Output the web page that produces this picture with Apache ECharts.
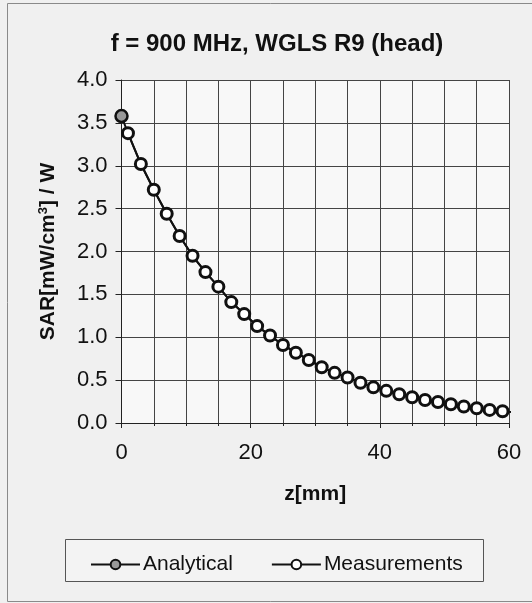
<!DOCTYPE html>
<html>
<head>
<meta charset="utf-8">
<script src="https://cdn.jsdelivr.net/npm/echarts@6/dist/echarts.min.js"></script>
<style>
html,body{margin:0;padding:0;background:#f0f0f0;}
#c{width:532px;height:603px;}
</style>
</head>
<body>
<div id="c"></div>
<script>
const titleText = 'f = 900 MHz, WGLS R9 (head)';
const xName = 'z[mm]';
const yName = 'SAR[mW/cm{sup|3}] / W';
const seriesNames = ['Analytical', 'Measurements'];

const measZ = [1,3,5,7,9,11,13,15,17,19,21,23,25,27,29,31,33,35,37,39,41,43,45,47,49,51,53,55,57,59];
const measSAR = [3.38,3.02,2.72,2.44,2.18,1.95,1.76,1.59,1.41,1.27,1.13,1.02,0.91,0.82,0.735,0.65,0.585,0.53,0.47,0.416,0.375,0.335,0.30,0.268,0.245,0.218,0.193,0.172,0.153,0.137];

const anaZ = [0,1,3,5,7,9,11,13,15,17,19,21,23,25,27,29,31,33,35,37,39,41,43,45,47,49,51,53,55,57,59,60.5];
const anaSAR = [3.58,3.38,3.02,2.72,2.44,2.18,1.95,1.76,1.59,1.41,1.27,1.13,1.02,0.91,0.82,0.735,0.65,0.585,0.53,0.47,0.416,0.375,0.335,0.30,0.268,0.245,0.218,0.193,0.172,0.153,0.137,0.127];

const chart = echarts.init(document.getElementById('c'), null, {renderer:'canvas'});
const FONT = 'Liberation Sans, Arial, sans-serif';

const anaData = anaZ.map((z,i) => i === 0 ? {value:[z, anaSAR[i]], symbol:'circle'} : {value:[z, anaSAR[i]], symbol:'none'});
const measData = measZ.map((z,i) => [z, measSAR[i]]);

chart.setOption({
  backgroundColor: '#f0f0f0',
  animation: false,
  textStyle: {fontFamily: FONT},
  title: {
    text: titleText,
    left: 272, top: 27, textAlign: 'center',
    textStyle: {fontFamily: FONT, fontWeight: 'bold', fontSize: 24, color: '#111'}
  },
  graphic: [
    {type:'rect', shape:{x:7.5, y:3.5, width:540, height:598}, style:{fill:'none', stroke:'#8a8a8a', lineWidth:1}, silent:true, z:-10},
    {type:'rect', shape:{x:65.5, y:539.5, width:418, height:42}, style:{fill:'#f3f3f3', stroke:'#555', lineWidth:1}, silent:true, z:-5}
  ],
  legend: {
    left: 85, top: 549,
    itemWidth: 49, itemHeight: 12, itemGap: 38,
    textStyle: {fontFamily: FONT, fontSize: 21, color: '#111', padding:[0,0,0,-2]},
    data: seriesNames
  },
  grid: {left: 121.5, right: 23, top: 80, bottom: 180, show: true, backgroundColor: '#f8f8f8', borderWidth: 0},
  xAxis: {
    type: 'value', min: 0, max: 60, interval: 20,
    name: xName, nameLocation: 'middle', nameGap: 61,
    nameTextStyle: {fontFamily: FONT, fontWeight: 'bold', fontSize: 21, color: '#111'},
    axisLine: {show: true, onZero: false, lineStyle: {color: '#222', width: 1}},
    axisTick: {show: true, length: 5, lineStyle: {color: '#222'}},
    minorTick: {show: true, splitNumber: 4, length: 3, lineStyle: {color: '#222'}},
    axisLabel: {fontFamily: FONT, fontSize: 22, color: '#111', margin: 19},
    splitLine: {show: true, lineStyle: {color: '#444', width: 1}},
    minorSplitLine: {show: true, lineStyle: {color: '#444', width: 1}}
  },
  yAxis: {
    type: 'value', min: 0, max: 4, interval: 0.5,
    name: yName, nameLocation: 'middle', nameGap: 61, nameRotate: 90,
    nameTextStyle: {fontFamily: FONT, fontWeight: 'bold', fontSize: 21, color: '#111',
      rich: {sup: {fontFamily: FONT, fontWeight: 'bold', fontSize: 13, color: '#111', verticalAlign: 'top', lineHeight: 24}}},
    axisLine: {show: true, lineStyle: {color: '#222', width: 1}},
    axisTick: {show: true, length: 6, lineStyle: {color: '#222'}},
    axisLabel: {fontFamily: FONT, fontSize: 22, color: '#111', margin: 14, formatter: v => v.toFixed(1)},
    splitLine: {show: true, lineStyle: {color: '#444', width: 1}}
  },
  series: [
    {
      name: seriesNames[0], type: 'line', data: anaData, clip: false,
      symbol: 'circle', symbolSize: 12, showAllSymbol: true,
      lineStyle: {color: '#111', width: 2},
      itemStyle: {color: '#999', borderColor: '#111', borderWidth: 2.5},
      z: 2
    },
    {
      name: seriesNames[1], type: 'line', data: measData,
      symbol: 'circle', symbolSize: 11, showAllSymbol: true,
      lineStyle: {color: '#111', width: 2},
      itemStyle: {color: '#fff', borderColor: '#111', borderWidth: 3},
      z: 3
    }
  ]
});
</script>
</body>
</html>
